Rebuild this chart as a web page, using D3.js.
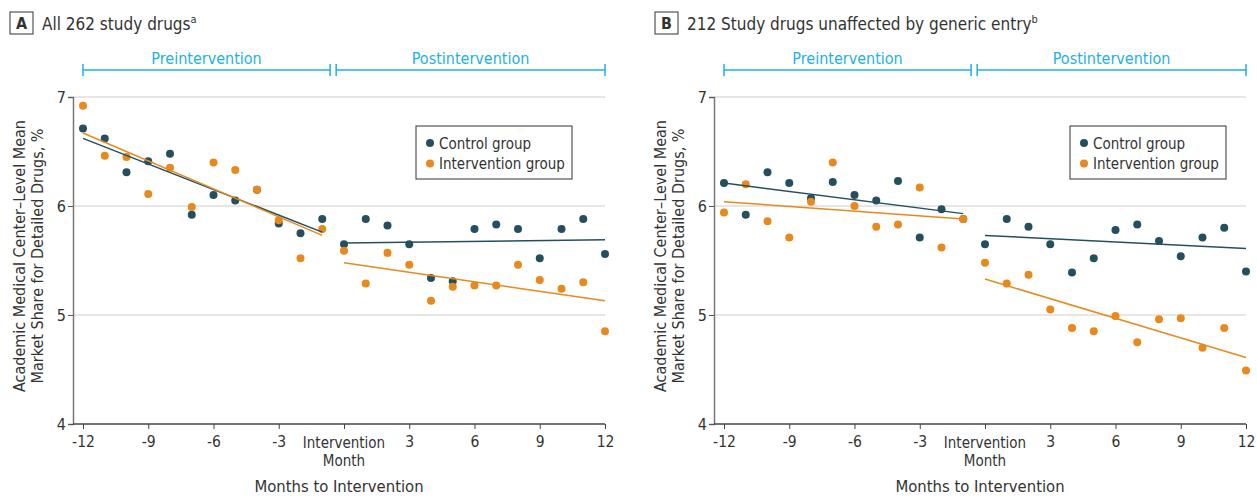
<!DOCTYPE html>
<html>
<head>
<meta charset="utf-8">
<script src="https://cdn.jsdelivr.net/npm/d3@7"></script>
<style>
  body { margin: 0; background: #fff; }
  svg text { font-family: "Liberation Sans Narrow", "Arial Narrow", "DejaVu Sans Condensed", sans-serif; fill: #333; }
</style>
</head>
<body>
<svg id="chart" width="1257" height="496"></svg>
<script>
const width = 1257;
const height = 496;

// Months relative to intervention
const months = [-12, -11, -10, -9, -8, -7, -6, -5, -4, -3, -2, -1, 0, 1, 2, 3, 4, 5, 6, 7, 8, 9, 10, 11, 12];
const tickMonths = [-12, -9, -6, -3, 0, 3, 6, 9, 12];
const yTicks = [4, 5, 6, 7];
const seriesNames = ['Control group', 'Intervention group'];

// Panel A: all 262 study drugs
const aControl = [6.71, 6.62, 6.31, 6.41, 6.48, 5.92, 6.10, 6.05, 6.15, 5.84, 5.75, 5.88,
  5.65, 5.88, 5.82, 5.65, 5.34, 5.31, 5.79, 5.83, 5.79, 5.52, 5.79, 5.88, 5.56];
const aIntervention = [6.92, 6.46, 6.45, 6.11, 6.35, 5.99, 6.40, 6.33, 6.15, 5.87, 5.52, 5.79,
  5.59, 5.29, 5.57, 5.46, 5.13, 5.26, 5.27, 5.27, 5.46, 5.32, 5.24, 5.30, 4.85];
const aControlTrend = [6.62, 5.76, 5.66, 5.69];
const aInterventionTrend = [6.67, 5.73, 5.48, 5.13];

// Panel B: 212 study drugs unaffected by generic entry
const bControl = [6.21, 5.92, 6.31, 6.21, 6.07, 6.22, 6.10, 6.05, 6.23, 5.71, 5.97, 5.88,
  5.65, 5.88, 5.81, 5.65, 5.39, 5.52, 5.78, 5.83, 5.68, 5.54, 5.71, 5.80, 5.40];
const bIntervention = [5.94, 6.20, 5.86, 5.71, 6.04, 6.40, 6.00, 5.81, 5.83, 6.17, 5.62, 5.88,
  5.48, 5.29, 5.37, 5.05, 4.88, 4.85, 4.99, 4.75, 4.96, 4.97, 4.70, 4.88, 4.49];
const bControlTrend = [6.21, 5.93, 5.73, 5.61];
const bInterventionTrend = [6.04, 5.88, 5.33, 4.61];

// trend segments: [start month, end month]
const preSegment = [-12, -1];
const postSegment = [0, 12];

const colors = ['#264f5d', '#e8891d'];
const bracketColor = '#1fb0e6';

const svg = d3.select('#chart');

function drawPanel(opt) {
  const g = svg.append('g');
  const axisX = opt.left;
  const x = d3.scaleLinear().domain([-12, 12]).range([axisX + 10, axisX + 532]);
  const y = d3.scaleLinear().domain([4, 7]).range([424, 97]);
  const right = x(12);

  // Panel letter box and title
  g.append('rect')
    .attr('x', opt.boxX).attr('y', 12)
    .attr('width', 23).attr('height', 22)
    .attr('fill', 'none').attr('stroke', '#333').attr('stroke-width', 1);
  g.append('text')
    .attr('x', opt.boxX + 11.5).attr('y', 29)
    .attr('text-anchor', 'middle')
    .style('font-size', '16px').style('font-weight', 'bold')
    .text(opt.letter);
  const title = g.append('text')
    .attr('x', opt.boxX + 32).attr('y', 30)
    .style('font-size', '17px');
  title.append('tspan').text(opt.title);
  title.append('tspan').attr('dy', -7).style('font-size', '11px').text(opt.sup);

  // Pre/post brackets
  const brackets = [
    {label: 'Preintervention', x0: x(-12), x1: x(-0.64)},
    {label: 'Postintervention', x0: x(-0.36), x1: x(12)}
  ];
  brackets.forEach(b => {
    const bg = g.append('g').attr('stroke', bracketColor).attr('stroke-width', 1.5);
    bg.append('line').attr('x1', b.x0).attr('x2', b.x1).attr('y1', 70).attr('y2', 70);
    bg.append('line').attr('x1', b.x0).attr('x2', b.x0).attr('y1', 64).attr('y2', 76);
    bg.append('line').attr('x1', b.x1).attr('x2', b.x1).attr('y1', 64).attr('y2', 76);
    g.append('text')
      .attr('x', (b.x0 + b.x1) / 2).attr('y', 64)
      .attr('text-anchor', 'middle')
      .style('font-size', '16px')
      .style('fill', bracketColor)
      .text(b.label);
  });

  // Gridlines
  g.selectAll('.grid')
    .data([5, 6, 7])
    .enter()
    .append('line')
    .attr('x1', axisX).attr('x2', right)
    .attr('y1', d => y(d)).attr('y2', d => y(d))
    .attr('stroke', '#dedede').attr('stroke-width', 1.5);

  // Y axis
  const yAxis = g.append('g')
    .attr('transform', `translate(${axisX},0)`)
    .call(d3.axisLeft(y).tickValues(yTicks).tickSize(5).tickFormat(d3.format('d')));
  yAxis.select('.domain').attr('stroke', '#777').attr('stroke-width', 1.5);
  yAxis.selectAll('.tick line').attr('stroke', '#555');
  yAxis.selectAll('text').style('font-size', '16px').attr('x', -7);

  // X axis
  const xAxis = g.append('g')
    .attr('transform', 'translate(0,424)')
    .call(d3.axisBottom(x).tickValues(tickMonths).tickSize(5).tickFormat(d => d === 0 ? '' : d));
  xAxis.select('.domain').remove();
  xAxis.append('line').attr('x1', axisX).attr('x2', right).attr('y1', 0).attr('y2', 0)
    .attr('stroke', '#444').attr('stroke-width', 1.5);
  xAxis.selectAll('.tick line').attr('stroke', '#444');
  xAxis.selectAll('text').style('font-size', '15.5px').attr('y', 12);
  const zeroLabel = xAxis.append('text')
    .attr('text-anchor', 'middle')
    .attr('x', x(0)).attr('y', 24)
    .style('font-size', '15px');
  zeroLabel.append('tspan').attr('x', x(0)).text('Intervention');
  zeroLabel.append('tspan').attr('x', x(0)).attr('dy', 18).text('Month');

  // Axis titles
  g.append('text')
    .attr('x', (axisX + right) / 2).attr('y', 492)
    .attr('text-anchor', 'middle')
    .style('font-size', '16.5px')
    .text('Months to Intervention');
  const yLabel = g.append('text')
    .attr('transform', `translate(${axisX - 48},256) rotate(-90)`)
    .attr('text-anchor', 'middle')
    .style('font-size', '16px');
  yLabel.append('tspan').attr('x', 0).attr('y', 0).text('Academic Medical Center–Level Mean');
  yLabel.append('tspan').attr('x', 0).attr('y', 18).text('Market Share for Detailed Drugs, %');

  // Points and trend lines
  const series = [opt.control, opt.intervention];
  const trends = [opt.controlTrend, opt.interventionTrend];
  series.forEach((values, si) => {
    g.append('g').selectAll('circle')
      .data(months.map((m, i) => ({month: m, value: values[i]})))
      .enter()
      .append('circle')
      .attr('cx', d => x(d.month))
      .attr('cy', d => y(d.value))
      .attr('r', 4)
      .attr('fill', colors[si]);
  });
  trends.forEach((t, si) => {
    const segs = [
      [[preSegment[0], t[0]], [preSegment[1], t[1]]],
      [[postSegment[0], t[2]], [postSegment[1], t[3]]]
    ];
    segs.forEach(s => {
      g.append('path')
        .attr('d', d3.line().x(d => x(d[0])).y(d => y(d[1]))(s))
        .attr('fill', 'none')
        .attr('stroke', colors[si])
        .attr('stroke-width', 1.5);
    });
  });

  // Legend
  const lg = g.append('g').attr('transform', `translate(${opt.legendX},126)`);
  lg.append('rect')
    .attr('width', 156).attr('height', 53)
    .attr('fill', '#fff').attr('stroke', '#333').attr('stroke-width', 1);
  seriesNames.forEach((name, i) => {
    lg.append('circle').attr('cx', 14).attr('cy', 17 + i * 20.5).attr('r', 4).attr('fill', colors[i]);
    lg.append('text').attr('x', 23).attr('y', 22.5 + i * 20.5)
      .style('font-size', '15px').text(name);
  });
}

drawPanel({
  left: 73, boxX: 10, letter: 'A', title: 'All 262 study drugs', sup: 'a',
  control: aControl, intervention: aIntervention,
  controlTrend: aControlTrend, interventionTrend: aInterventionTrend,
  legendX: 416
});

drawPanel({
  left: 714, boxX: 655, letter: 'B', title: '212 Study drugs unaffected by generic entry', sup: 'b',
  control: bControl, intervention: bIntervention,
  controlTrend: bControlTrend, interventionTrend: bInterventionTrend,
  legendX: 1070
});
</script>
</body>
</html>
